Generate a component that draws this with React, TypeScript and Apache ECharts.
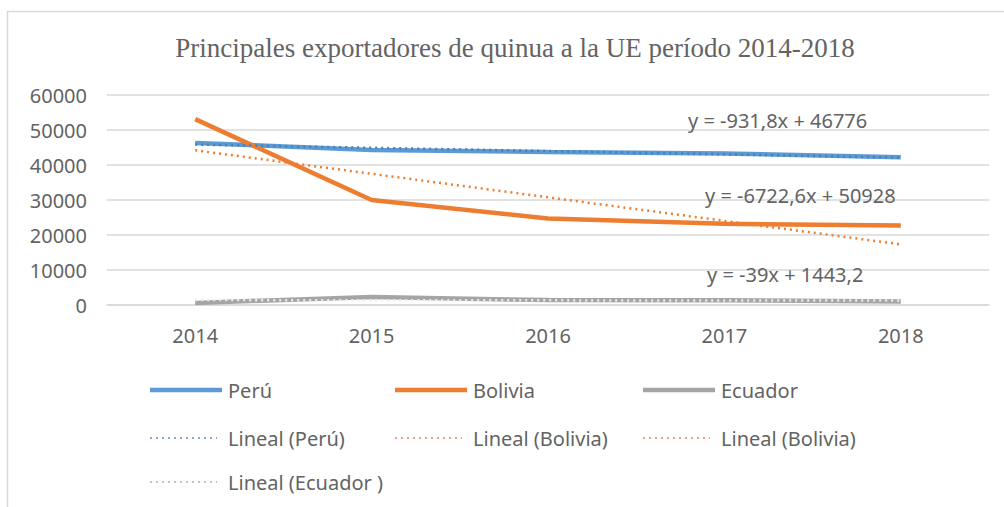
import React, { useEffect, useRef } from 'react';
import * as echarts from 'echarts';

const categories = ['2014', '2015', '2016', '2017', '2018'];
const peru = [46300, 44300, 43700, 43300, 42200];
const bolivia = [53100, 30000, 24700, 23200, 22700];
const ecuador = [600, 2300, 1400, 1330, 1000];
// trend line values taken from the equations shown in the chart (x = 1..5)
const peruTrend = [45844, 44912, 43981, 43049, 42117];
const boliviaTrend = [44205, 37483, 30760, 24038, 17315];
const ecuadorTrend = [1404, 1365, 1326, 1287, 1248];
const yMin = 0;
const yMax = 60000;
const yStep = 10000;
const equations = ['y = -931,8x + 46776', 'y = -6722,6x + 50928', 'y = -39x + 1443,2'];
const legendNames = [
  'Perú', 'Bolivia', 'Ecuador',
  'Lineal (Perú)', 'Lineal (Bolivia)', 'Lineal (Bolivia)',
  'Lineal (Ecuador )',
];

const TITLE = 'Principales exportadores de quinua a la UE período 2014-2018';
const C_PERU = '#5B9BD5';
const C_BOL = '#ED7D31';
const C_ECU = '#A5A5A5';
const TXT = '#636363';
const FONT = '"Noto Sans", sans-serif';

export default function App() {
  const ref = useRef<HTMLDivElement>(null);
  useEffect(() => {
    if (!ref.current) return;
    const chart = echarts.init(ref.current, undefined, { renderer: 'svg' });

    const legendStyle = [
      { color: C_PERU, dotted: false },
      { color: C_BOL, dotted: false },
      { color: C_ECU, dotted: false },
      { color: '#8FA8C8', dotted: true },
      { color: '#F2A27A', dotted: true },
      { color: '#F2A27A', dotted: true },
      { color: '#B8C4D6', dotted: true },
    ];
    const colX = [150, 395, 643];
    const rowY = [390, 438, 482];
    const legendGraphics: any[] = [];
    legendNames.forEach((name, i) => {
      const col = i % 3;
      const row = Math.floor(i / 3);
      const st = legendStyle[i];
      const x0 = colX[col];
      const y = rowY[row];
      legendGraphics.push({
        type: 'line',
        shape: { x1: x0, y1: y, x2: x0 + (st.dotted ? 67 : 72), y2: y },
        style: st.dotted
          ? { stroke: st.color, lineWidth: 2, lineDash: [2, 4] }
          : { stroke: st.color, lineWidth: 4.5 },
        silent: true,
      });
      legendGraphics.push({
        type: 'text',
        x: x0 + 78,
        y,
        style: { text: name, fill: TXT, font: `20px ${FONT}`, verticalAlign: 'middle', align: 'left' },
        silent: true,
      });
    });

    const eqPos = [
      { x: 688, y: 120 },
      { x: 705, y: 195 },
      { x: 707, y: 274 },
    ];
    const eqGraphics = equations.map((t, i) => ({
      type: 'text',
      x: eqPos[i].x,
      y: eqPos[i].y,
      style: { text: t, fill: TXT, font: `20px ${FONT}`, verticalAlign: 'middle', align: 'left' },
      silent: true,
      z: 10,
    }));

    const trendLine = (color: string) => ({
      color,
      width: 2.5,
      type: [2, 4] as any,
    });

    chart.setOption({
      animation: false,
      backgroundColor: '#ffffff',
      title: {
        text: TITLE,
        left: 510,
        top: 29,
        textAlign: 'center',
        textStyle: {
          color: TXT,
          fontFamily: '"Liberation Serif", "Times New Roman", serif',
          fontSize: 27,
          fontWeight: 'normal',
        },
      },
      grid: { left: 107, top: 95, width: 882, height: 210, containLabel: false },
      xAxis: {
        type: 'category',
        data: categories,
        boundaryGap: true,
        axisLine: { lineStyle: { color: '#D9D9D9', width: 1.5 } },
        axisTick: { show: false },
        axisLabel: { color: TXT, fontFamily: FONT, fontSize: 20, margin: 20 },
      },
      yAxis: {
        type: 'value',
        min: yMin,
        max: yMax,
        interval: yStep,
        axisLine: { show: false },
        axisTick: { show: false },
        axisLabel: {
          color: TXT,
          fontFamily: FONT,
          fontSize: 20,
          margin: 20,
          formatter: (v: number) => String(v),
        },
        splitLine: { lineStyle: { color: '#D9D9D9', width: 1.5 } },
      },
      series: [
        { name: 'Perú', type: 'line', data: peru, showSymbol: false, lineStyle: { color: C_PERU, width: 4.5 }, z: 2 },
        { name: 'Bolivia', type: 'line', data: bolivia, showSymbol: false, lineStyle: { color: C_BOL, width: 4.5 }, z: 2 },
        { name: 'Ecuador', type: 'line', data: ecuador, showSymbol: false, lineStyle: { color: C_ECU, width: 4.5 }, z: 2 },
        { name: 'Lineal (Perú)', type: 'line', data: peruTrend, showSymbol: false, lineStyle: trendLine('#4A7FB5'), z: 3 },
        { name: 'Lineal (Bolivia)', type: 'line', data: boliviaTrend, showSymbol: false, lineStyle: trendLine(C_BOL), z: 3 },
        { name: 'Lineal (Ecuador )', type: 'line', data: ecuadorTrend, showSymbol: false, lineStyle: trendLine('#E8ECF2'), z: 3 },
      ],
      graphic: [
        {
          type: 'rect',
          shape: { x: 7.5, y: 11.5, width: 1010, height: 510 },
          style: { fill: 'none', stroke: '#D9D9D9', lineWidth: 1.5 },
          silent: true,
          z: -1,
        },
        ...eqGraphics,
        ...legendGraphics,
      ],
    });
    return () => chart.dispose();
  }, []);

  return (
    <div
      ref={ref}
      style={{ position: 'fixed', left: 0, top: 0, width: 1004, height: 507, background: '#fff' }}
    />
  );
}
